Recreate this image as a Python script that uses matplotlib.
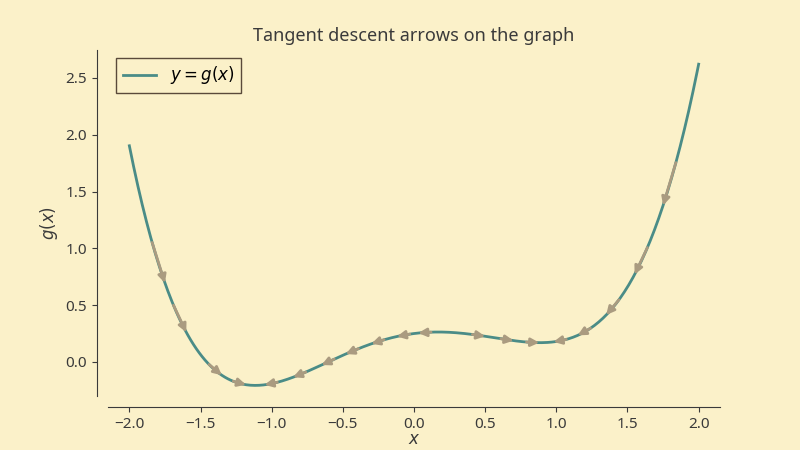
import numpy as np
import matplotlib.pyplot as plt

# points
px = [-2.0, -1.75, -1.6, -1.35, -1.2, -1.05, -0.85, -0.65, -0.45, -0.3, -0.1, 0.05,
      0.2, 0.5, 0.7, 0.85, 1.0, 1.15, 1.35, 1.55, 1.75, 2.0]
py = [1.9, 0.73, 0.2, -0.09, -0.19, -0.2, -0.13, -0.03, 0.07, 0.16, 0.22, 0.26,
      0.27, 0.24, 0.19, 0.17, 0.17, 0.22, 0.41, 0.79, 1.37, 2.62]
coef = np.polyfit(px, py, 6)

# arrow tip positions along the curve
arrow_x = [-1.75, -1.6, -1.35, -1.18, -1.05, -0.85, -0.65, -0.48, -0.3, -0.12, 0.03,
           0.5, 0.7, 0.88, 0.98, 1.15, 1.35, 1.55, 1.75]

bg = '#fbf1c9'
curve_c = '#4a8c87'
arrow_c = '#aa9b80'
text_c = '#3a3a3a'

plt.rcParams['font.family'] = ['Noto Sans', 'DejaVu Sans']
fig, ax = plt.subplots(figsize=(8, 4.5), dpi=100)
fig.patch.set_facecolor(bg)
ax.set_facecolor(bg)

xs = np.linspace(-2, 2, 400)
ax.plot(xs, np.polyval(coef, xs), color=curve_c, lw=2, label='$y = g(x)$')

dcoef = np.polyder(coef)
for x1 in arrow_x:
    back = np.sign(np.polyval(dcoef, x1)) * 0.09
    x0 = x1 + back
    ax.annotate('', xy=(x1, np.polyval(coef, x1)), xytext=(x0, np.polyval(coef, x0)),
                arrowprops=dict(arrowstyle='-|>', color=arrow_c, lw=2, mutation_scale=12,
                                shrinkA=0, shrinkB=0))

ax.set_xlim(-2.15, 2.15)
ax.set_ylim(-0.3, 2.75)
ax.set_xticks(np.arange(-2, 2.01, 0.5))
ax.set_yticks(np.arange(0, 2.51, 0.5))
for s in ['top', 'right']:
    ax.spines[s].set_visible(False)
for s in ['left', 'bottom']:
    ax.spines[s].set_position(('outward', 8))
    ax.spines[s].set_color(text_c)
ax.tick_params(colors=text_c, labelsize=11)
ax.set_xlabel('$x$', fontsize=12, color=text_c, labelpad=0)
ax.set_ylabel('$g(x)$', fontsize=12, color=text_c)
ax.set_title('Tangent descent arrows on the graph', fontsize=13, color=text_c)
leg = ax.legend(loc='upper left', fontsize=12, facecolor=bg, edgecolor='#5a4a3a', fancybox=False)
leg.get_frame().set_alpha(1)
fig.subplots_adjust(left=0.135, right=0.9, top=0.89, bottom=0.12)
fig.savefig('out.png', dpi=100, facecolor=bg)
